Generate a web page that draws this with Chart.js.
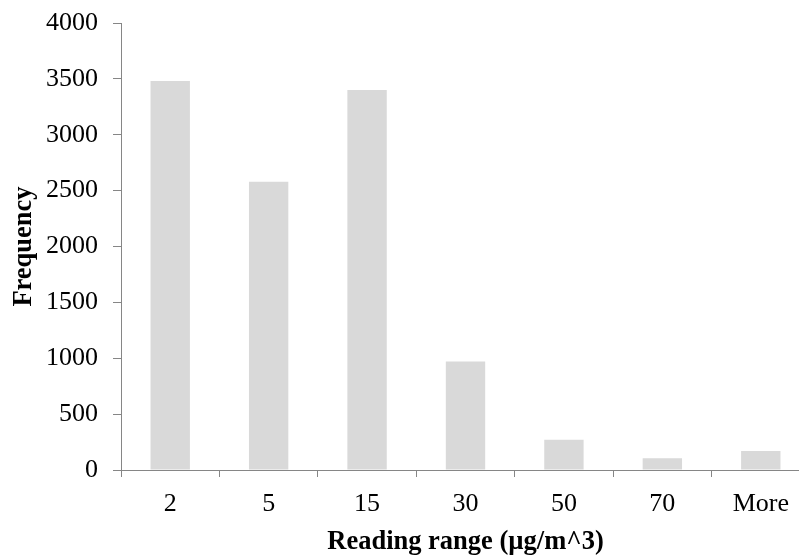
<!DOCTYPE html>
<html>
<head>
<meta charset="utf-8">
<script src="https://cdn.jsdelivr.net/npm/chart.js@4/dist/chart.umd.min.js"></script>
<style>
  html, body { margin: 0; padding: 0; background: #fff; overflow: hidden; }
  #wrap { width: 812px; height: 558px; }
</style>
</head>
<body>
<div id="wrap"><canvas id="c" width="812" height="558"></canvas></div>
<script>
// Histogram of readings by range bin
const categories = ['2', '5', '15', '30', '50', '70', 'More'];
const frequency = [3480, 2580, 3400, 970, 270, 105, 170];
const yTicks = [0, 500, 1000, 1500, 2000, 2500, 3000, 3500, 4000];

const axisGray = '#868686';
const serif = '"Liberation Serif", "Times New Roman", Times, serif';

new Chart(document.getElementById('c'), {
  type: 'bar',
  data: {
    labels: categories,
    datasets: [{
      label: 'Frequency',
      data: frequency,
      backgroundColor: '#d9d9d9',
      borderWidth: 0,
      categoryPercentage: 1.0,
      barPercentage: 0.4
    }]
  },
  options: {
    responsive: false,
    animation: false,
    devicePixelRatio: 1,
    layout: { padding: { top: 23, right: 2, left: 0, bottom: 0 } },
    plugins: {
      legend: { display: false },
      tooltip: { enabled: false }
    },
    scales: {
      x: {
        grid: { drawOnChartArea: false, color: axisGray, tickLength: 7, offset: true },
        border: { color: axisGray, width: 1 },
        ticks: {
          color: '#000',
          padding: 12,
          font: { family: serif, size: 26 },
          maxRotation: 0
        },
        title: {
          display: true,
          text: 'Reading range (µg/m^3)',
          color: '#000',
          font: { family: serif, size: 26.5, weight: 'bold', lineHeight: 1 },
          padding: { top: 0, bottom: 3 }
        },
        afterFit: (s) => { s.height = 88; s.paddingLeft = 0; s.paddingRight = 0; }
      },
      y: {
        min: 0,
        max: 4000,
        afterBuildTicks: (s) => { s.ticks = yTicks.map(v => ({ value: v })); },
        grid: { drawOnChartArea: false, color: axisGray, tickLength: 8 },
        border: { color: axisGray, width: 1 },
        ticks: {
          color: '#000',
          padding: 15,
          font: { family: serif, size: 26 },
          callback: (v) => String(v)
        },
        title: {
          display: true,
          text: 'Frequency',
          color: '#000',
          font: { family: serif, size: 26.5, weight: 'bold', lineHeight: 1 },
          padding: { top: 11, bottom: 0 }
        },
        afterFit: (s) => { s.width = 121; s.paddingTop = 0; s.paddingBottom = 0; }
      }
    }
  }
});
</script>
</body>
</html>
